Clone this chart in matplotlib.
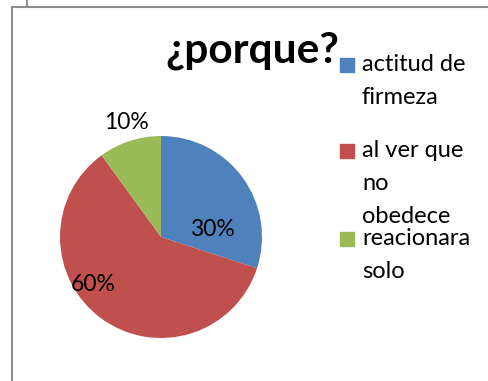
import matplotlib.pyplot as plt
from matplotlib.patches import Rectangle
from matplotlib.lines import Line2D

categories = ['actitud de\nfirmeza', 'al ver que\nno\nobedece', 'reacionara\nsolo']
values = [30, 60, 10]
colors = ['#4f81bd', '#c0504d', '#9bbb59']

W, H = 489, 381
fig = plt.figure(figsize=(W / 100, H / 100), dpi=100)
plt.rcParams['font.family'] = ['Lato', 'DejaVu Sans']

# pie placed by pixel box: centre (161, 237), radius ~101
cx, cy, r = 161, 237, 101
ax = fig.add_axes([(cx - r) / W, 1 - (cy + r) / H, 2 * r / W, 2 * r / H])
wedges, texts, autotexts = ax.pie(values, colors=colors, startangle=90,
                                  counterclock=False, autopct='%d%%',
                                  textprops={'fontsize': 16.5, 'color': 'black'})
ax.set_xlim(-1, 1)
ax.set_ylim(-1, 1)
ax.set_aspect('equal')
autotexts[0].set_position((0.505, 0.07))
autotexts[1].set_position((-0.67, -0.475))
# small slice label sits outside
autotexts[2].set_position((-0.34, 1.13))

fig.text(252 / W, 1 - 51 / H, '¿porque?', ha='center', va='center',
         fontsize=30.5, fontweight='bold')

# legend drawn by hand
legend_y = [65, 151, 239]
for lab, col, y in zip(categories, colors, legend_y):
    fig.patches.append(Rectangle((340 / W, 1 - (y + 7) / H), 14 / W, 14 / H,
                                 transform=fig.transFigure, color=col))
    fig.text(362 / W, 1 - (y - 11) / H, lab, ha='left', va='top',
             fontsize=17, linespacing=1.72)

# frame lines around the chart area
gray = '#8c8c8c'
fig.lines.append(Line2D([12 / W, 1], [1 - 7 / H, 1 - 7 / H], transform=fig.transFigure, color=gray, lw=1.5))
fig.lines.append(Line2D([12 / W, 12 / W], [0, 1 - 7 / H], transform=fig.transFigure, color=gray, lw=1.5))
fig.lines.append(Line2D([27 / W, 27 / W], [1 - 7 / H, 1], transform=fig.transFigure, color=gray, lw=1.5))

plt.savefig('out.png', dpi=100)
